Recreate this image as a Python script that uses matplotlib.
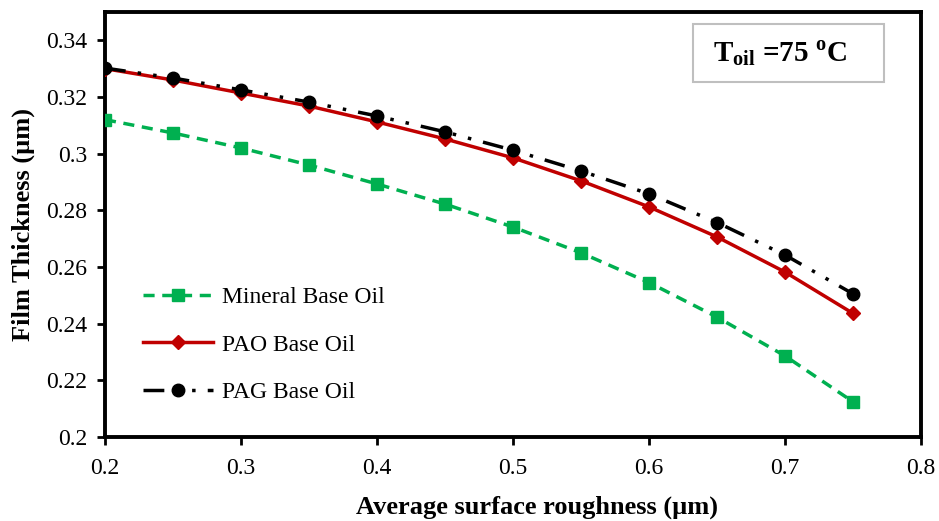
import numpy as np
import matplotlib.pyplot as plt
from matplotlib.patches import Rectangle

plt.rcParams['font.family'] = ['Liberation Serif', 'DejaVu Serif']
plt.rcParams['mathtext.fontset'] = 'custom'
plt.rcParams['mathtext.rm'] = 'Liberation Serif'
plt.rcParams['mathtext.bf'] = 'Liberation Serif:bold'

roughness = [0.2, 0.25, 0.3, 0.35, 0.4, 0.45, 0.5, 0.55, 0.6, 0.65, 0.7, 0.75]
mineral = [0.312, 0.3073, 0.302, 0.296, 0.2893, 0.2822, 0.2741, 0.265, 0.2545, 0.2423, 0.2286, 0.2124]
pao = [0.330, 0.326, 0.3214, 0.3168, 0.3112, 0.3052, 0.2985, 0.2904, 0.2812, 0.2706, 0.2582, 0.2436]
pag = [0.3302, 0.3267, 0.3225, 0.3182, 0.3133, 0.3077, 0.3012, 0.2939, 0.2858, 0.2757, 0.2642, 0.2505]

fig = plt.figure(figsize=(9.39, 5.21), dpi=100)
ax = fig.add_axes([0.1118, 0.1612, 0.8692, 0.8158])

ax.plot(roughness, mineral, color='#00b050', lw=2.5, ls=(0, (3.2, 2.2)),
        marker='s', ms=9, mec='#00b050', mfc='#00b050', label='Mineral Base Oil', zorder=3)
ax.plot(roughness, pao, color='#c00000', lw=2.5, ls='-',
        marker='D', ms=7.5, mec='#c00000', mfc='#c00000', label='PAO Base Oil', zorder=3)
ax.plot(roughness, pag, color='black', lw=2.5, ls=(0, (6, 3.5, 1, 3.5, 1, 3.5)),
        marker='o', ms=9, mec='black', mfc='black', label='PAG Base Oil', zorder=4)

ax.set_xlim(0.2, 0.8)
ax.set_ylim(0.2, 0.35)
ax.set_xticks([0.2, 0.3, 0.4, 0.5, 0.6, 0.7, 0.8])
ax.set_xticklabels(['0.2', '0.3', '0.4', '0.5', '0.6', '0.7', '0.8'])
ax.set_yticks([0.2, 0.22, 0.24, 0.26, 0.28, 0.3, 0.32, 0.34])
ax.set_yticklabels(['0.2', '0.22', '0.24', '0.26', '0.28', '0.3', '0.32', '0.34'])
ax.tick_params(direction='out', length=6, width=2, labelsize=17)
ax.tick_params(axis='x', pad=9)
ax.tick_params(axis='y', pad=7)
for s in ax.spines.values():
    s.set_linewidth(2.8)
    s.set_color('black')

ax.set_xlabel('Average surface roughness (µm)', fontsize=19, fontweight='bold')
ax.xaxis.set_label_coords(0.529, -0.138)
ax.set_ylabel('Film Thickness (µm)', fontsize=19, fontweight='bold', labelpad=8)

leg = ax.legend(loc='lower left', bbox_to_anchor=(0.02, 0.03), frameon=False,
                fontsize=17, handlelength=3.0, labelspacing=1.1, handletextpad=0.35)

ax.add_patch(Rectangle((0.721, 0.835), 0.233, 0.136, transform=ax.transAxes,
                       fc='white', ec='#bfbfbf', lw=1.5, zorder=5))
ax.text(0.827, 0.903, r'$\mathbf{T_{oil}}$ =75 $^{\mathbf{o}}$C', transform=ax.transAxes,
        fontsize=21, fontweight='bold', ha='center', va='center', zorder=6)

fig.savefig('out.png', dpi=100)
